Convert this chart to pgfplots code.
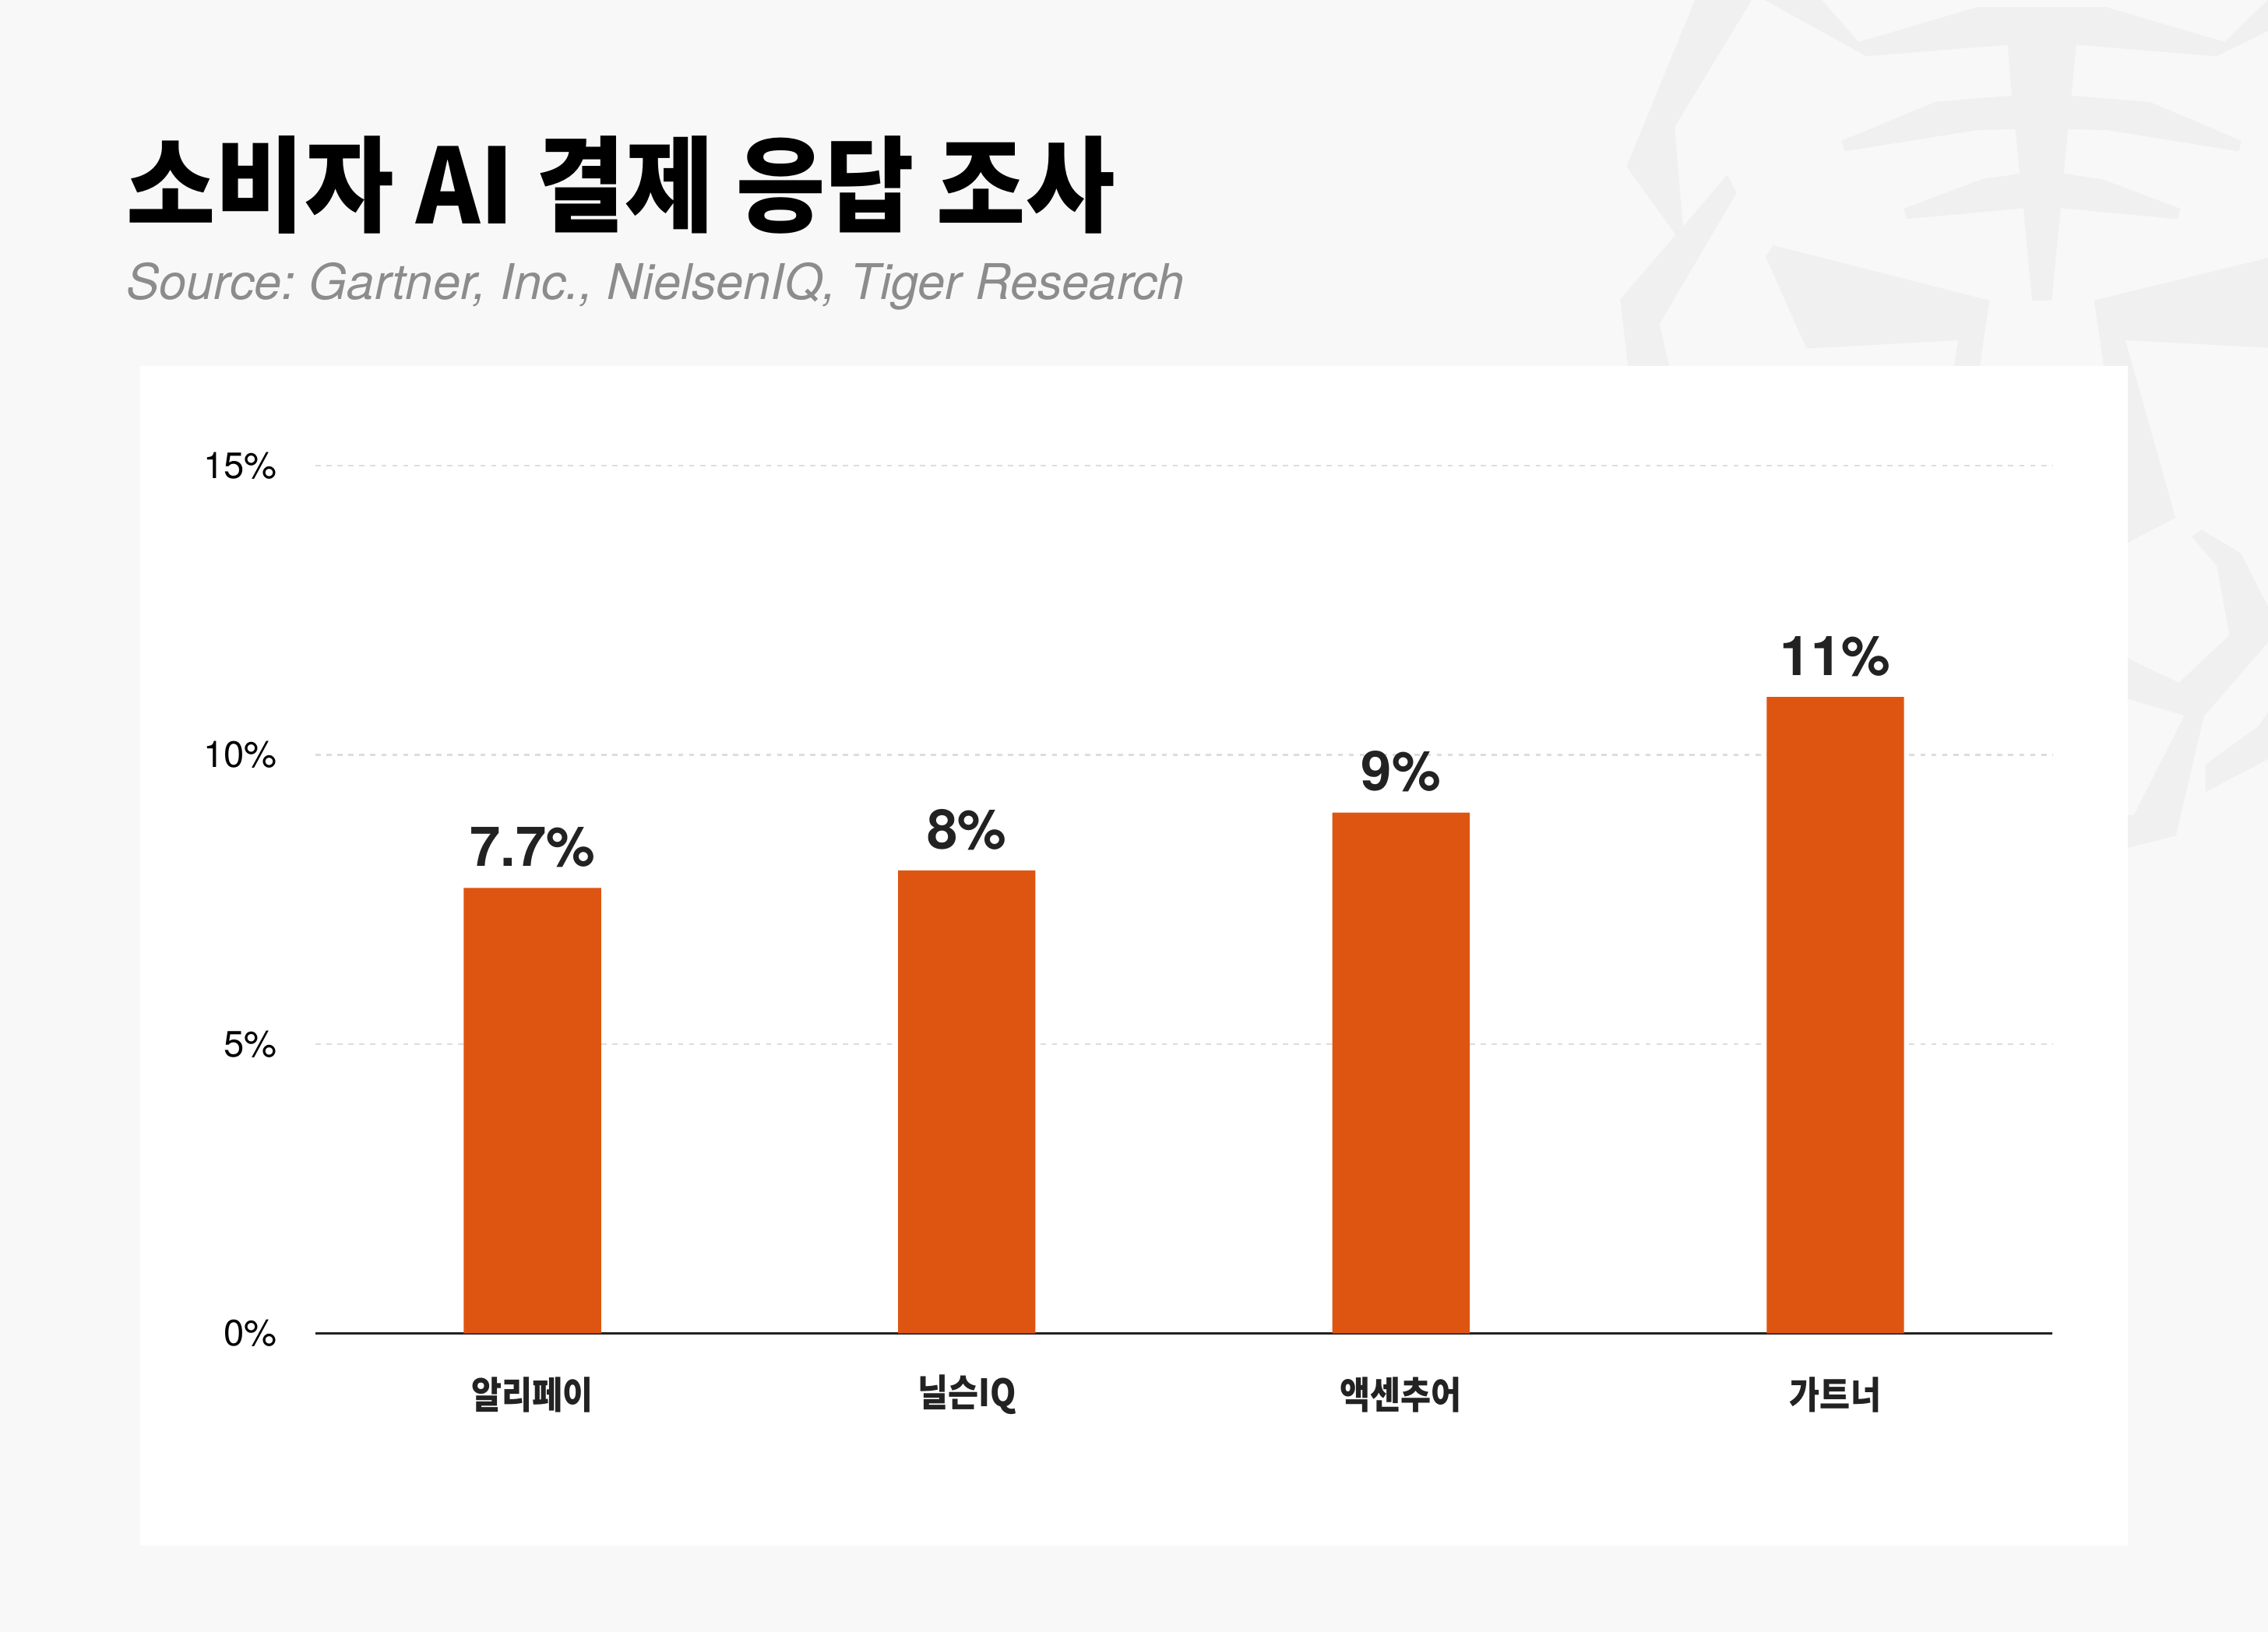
\documentclass[border=0pt]{standalone}
\usepackage{fontspec}
\usepackage{pgfplots}
\pgfplotsset{compat=1.18}
\setmainfont{TeX Gyre Heros}
\newfontfamily\krtitle{Noto Sans CJK KR}[FakeStretch=0.93]
\newfontfamily\krbold{Noto Sans CJK KR}[FakeStretch=0.88]
\definecolor{bg}{HTML}{F8F8F8}
\definecolor{deco}{HTML}{F0F0F0}
\definecolor{barc}{HTML}{DE5512}
\definecolor{darktext}{HTML}{222222}
\definecolor{subgray}{HTML}{8C8C8C}
\definecolor{gridc}{HTML}{DDDDDD}
\frenchspacing
\begin{document}
\begin{tikzpicture}[x=1pt,y=1pt]
\fill[bg] (0,0) rectangle (784,564.3);
\begin{scope}
\clip (0,0) rectangle (784,564.3);
\begin{scope}[shift={(551.9,564.3)}, x=0.14801pt, y=-0.18887pt]
\fill[deco] (70,305)--(235,-10)--(370,-10)--(182,233)--(202,415)--(305,320)--(327,353)--(147,593)--(178,700)--(78,700)--(55,548)--(185,430)--cycle;
\fill[deco] (370,-10)--(515,-10)--(612,77)--(890,13)--(1190,13)--(1467,77)--(1580,-10)--(1580,52)--(1447,103)--(1120,82)--(1109,175)--(1293,187)--(1506,258)--(1500,277)--(1190,238)--(1101,237)--(1091,318)--(1180,328)--(1363,382)--(1357,401)--(1084,381)--(1063,550)--(1017,550)--(997,381)--(725,401)--(717,382)--(900,328)--(988,318)--(978,237)--(890,238)--(580,277)--(572,258)--(790,187)--(970,175)--(960,82)--(630,103)--cycle;
\fill[deco] (395,470)--(412,449)--(917,550)--(890,700)--(828,700)--(845,623)--(490,638)--cycle;
\fill[deco] (1162,550)--(1580,470)--(1580,637)--(1235,623)--(1352,948)--(1200,1010)--(1200,700)--(1190,700)--cycle;
\fill[deco] (1390,982)--(1413,970)--(1505,1013)--(1580,1130)--(1580,1165)--(1418,1312)--(1353,1530)--(1200,1560)--(1200,1495)--(1255,1492)--(1373,1310)--(1200,1270)--(1200,1190)--(1360,1250)--(1478,1163)--(1449,1037)--cycle;
\fill[deco] (1422,1400)--(1545,1330)--(1580,1290)--(1580,1385)--(1422,1450)--cycle;
\end{scope}
\end{scope}
\fill[white] (48.5,29.8) rectangle (735.5,437.8);
\node[anchor=base west, inner sep=0pt, font=\krtitle\bfseries\fontsize{36}{40}\selectfont, text=black] at (43.5,486.8) {소비자 AI 결제 응답 조사};
\node[anchor=base west, inner sep=0pt, font=\itshape\fontsize{17}{20}\selectfont, text=subgray] at (43.5,460.8) {Source: Gartner, Inc., NielsenIQ, Tiger Research};
\begin{axis}[
  ybar, bar width=47.5pt,
  scale only axis, width=600.5pt, height=300pt,
  at={(109pt,103.3pt)}, anchor=south west,
  xmin=-0.5, xmax=3.5, ymin=0, ymax=15,
  axis x line*=bottom, axis y line*=left,
  x axis line style={-, draw=darktext, line width=0.8pt},
  y axis line style={draw=none},
  xtick style={draw=none}, ytick style={draw=none},
  ytick={0,5,10,15}, yticklabels={0\%,5\%,10\%,15\%},
  ymajorgrids, grid style={dash pattern=on 1.8pt off 2pt, color=gridc, line width=0.6pt},
  yticklabel style={font=\fontsize{12.7}{14}\selectfont, text=black, inner sep=0pt, anchor=east, xshift=-13pt},
  xtick={0,1,2,3}, xticklabels={알리페이, 닐슨IQ, 액센추어, 가트너},
  xticklabel style={font=\krbold\bfseries\fontsize{13}{15}\selectfont, text=darktext, inner sep=0pt, anchor=center, yshift=-17pt},
  /pgf/number format/assume math mode=true,
  nodes near coords={\pgfmathprintnumber{\pgfplotspointmeta}\%},
  every node near coord/.append style={font=\bfseries\fontsize{19}{22}\selectfont, text=darktext, anchor=base, inner sep=0pt, yshift=7.5pt},
]
\addplot[fill=barc, draw=none] coordinates {(0,7.7) (1,8) (2,9) (3,11)};
\end{axis}
\end{tikzpicture}
\end{document}
